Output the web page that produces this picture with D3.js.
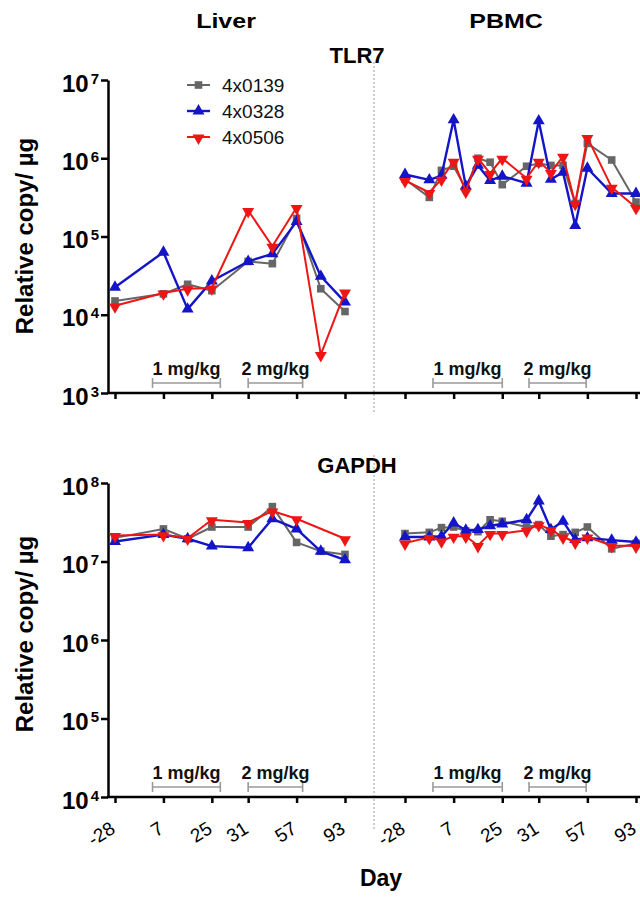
<!DOCTYPE html>
<html>
<head>
<meta charset="utf-8">
<script src="https://cdn.jsdelivr.net/npm/d3@7"></script>
<style>
  body { margin: 0; background: #fff; }
  svg { display: block; font-family: Arial, "Liberation Sans", sans-serif; }
</style>
</head>
<body>
<svg id="chart" width="640" height="898"></svg>
<script>
// sample days are not evenly spaced, so x is a slot index with labelled ticks
const tickSlots = [0, 4, 8, 11, 15, 19];
const tickLabels = ["-28", "7", "25", "31", "57", "93"];
const liverSlots = [0, 4, 6, 8, 11, 13, 15, 17, 19];
const pbmcSlots = [0, 2, 3, 4, 5, 6, 7, 8, 10, 11, 12, 13, 14, 15, 17, 19];

const series = ["4x0139", "4x0328", "4x0506"];

// TLR7, liver (one row per animal, same order as series)
const liverTlr7 = [
  [15000, 18500, 24500, 20300, 48000, 45000, 170000, 21500, 11000],
  [22500, 63000, 11800, 27000, 48000, 60000, 155000, 31000, 14500],
  [13000, 19000, 21500, 22000, 215000, 75000, 235000, 3100, 19500],
];
// TLR7, PBMC
const pbmcTlr7 = [
  [540000, 316000, 700000, 790000, 410000, 1000000, 890000, 460000, 790000, 860000, 810000, 810000, 265000, 1550000, 950000, 275000],
  [620000, 530000, 600000, 3100000, 440000, 810000, 520000, 590000, 480000, 3000000, 540000, 660000, 138000, 745000, 355000, 355000],
  [520000, 365000, 540000, 915000, 380000, 1000000, 640000, 1000000, 555000, 915000, 660000, 1060000, 265000, 1850000, 425000, 235000],
];
// GAPDH, liver (4x0506 has no sample at the 8th point)
const liverGapdh = [
  [20000000, 26000000, 19500000, 27500000, 27500000, 50000000, 17500000, 13500000, 12300000],
  [18000000, 22000000, 19500000, 15700000, 15000000, 35000000, 26000000, 13500000, 10500000],
  [21500000, 22000000, 19800000, 34000000, 31500000, 44000000, 35000000, null, 19500000],
];
// GAPDH, PBMC
const pbmcGapdh = [
  [22700000, 23500000, 27000000, 27500000, 24500000, 24000000, 34000000, 32500000, 27500000, 29500000, 21000000, 22000000, 23500000, 27500000, 14500000, 17000000],
  [20500000, 20500000, 21000000, 31000000, 25000000, 25500000, 28500000, 30000000, 34000000, 59000000, 25500000, 32500000, 19000000, 20000000, 18700000, 17700000],
  [17200000, 20300000, 18300000, 21000000, 21000000, 16000000, 22800000, 22700000, 25000000, 29500000, 25500000, 20500000, 17700000, 20500000, 16000000, 15700000],
];

// dose periods, in slot units per tissue
const doseLabels = ["1 mg/kg", "2 mg/kg"];
const doseLiver = [[3.1, 8.7], [11, 15.5]];
const dosePbmc = [[2.3, 8.0], [10.2, 14.9]];

const colors = ["#666666", "#1414c8", "#ee1515"];
const lineWidths = [2, 2.4, 2];

const svg = d3.select("#chart");

const xLiver = d3.scaleLinear().domain([0, 19]).range([115, 345]);
const xPbmc = d3.scaleLinear().domain([0, 19]).range([405, 636]);
const yTlr7 = d3.scaleLog().domain([1e3, 1e7]).range([393, 80]);
const yGapdh = d3.scaleLog().domain([1e4, 1e8]).range([797, 483]);

const rows = [
  { title: "TLR7", titleY: 63, y: yTlr7, liver: liverTlr7, pbmc: pbmcTlr7, sep: [62, 412], doseY: 383, labels: false, yTitle: 236 },
  { title: "GAPDH", titleY: 473, y: yGapdh, liver: liverGapdh, pbmc: pbmcGapdh, sep: [455, 830], doseY: 787, labels: true, yTitle: 634 },
];

function symbolFor(i) {
  if (i === 0) return d3.symbol().type(d3.symbolSquare).size(58)();
  return d3.symbol().type(d3.symbolTriangle).size(62)();
}

function drawSeries(g, xScale, yScale, slots, values) {
  values.forEach((vals, i) => {
    const pts = slots
      .map((s, j) => ({ s: s, v: vals[j] }))
      .filter((d) => d.v != null);
    const line = d3.line().x((d) => xScale(d.s)).y((d) => yScale(d.v));
    g.append("path")
      .attr("d", line(pts))
      .attr("fill", "none")
      .attr("stroke", colors[i])
      .attr("stroke-width", lineWidths[i])
      .attr("stroke-linejoin", "round");
    g.selectAll(null)
      .data(pts)
      .enter()
      .append("path")
      .attr("d", symbolFor(i))
      .attr("fill", colors[i])
      .attr("transform", (d) =>
        `translate(${xScale(d.s)},${yScale(d.v) + (i === 2 ? 1 : 0)})` + (i === 2 ? " rotate(180)" : "")
      );
  });
}

function drawDose(g, xScale, ranges, y) {
  ranges.forEach((r, i) => {
    const x0 = xScale(r[0]), x1 = xScale(r[1]);
    g.append("line").attr("x1", x0).attr("x2", x1).attr("y1", y).attr("y2", y)
      .attr("stroke", "#9a9a9a").attr("stroke-width", 1.6);
    [x0, x1].forEach((x) => {
      g.append("line").attr("x1", x).attr("x2", x).attr("y1", y - 5).attr("y2", y + 5)
        .attr("stroke", "#9a9a9a").attr("stroke-width", 1.6);
    });
    g.append("text")
      .attr("x", (x0 + x1) / 2)
      .attr("y", y - 8)
      .attr("text-anchor", "middle")
      .attr("font-size", 18)
      .attr("font-weight", "bold")
      .attr("fill", "#111")
      .text(doseLabels[i]);
  });
}

rows.forEach((row) => {
  const g = svg.append("g");
  const yBase = row.y.range()[0];

  // dashed separator between tissues
  g.append("line")
    .attr("x1", 374).attr("x2", 374)
    .attr("y1", row.sep[0]).attr("y2", row.sep[1])
    .attr("stroke", "#9a9a9a").attr("stroke-width", 1)
    .attr("stroke-dasharray", "2,2");

  // y axis, one tick per decade
  const decades = d3.range(5).map((k) => row.y.domain()[0] * Math.pow(10, k));
  const yAxis = d3.axisLeft(row.y)
    .tickValues(decades)
    .tickFormat("")
    .tickSize(7)
    .tickSizeOuter(0);
  const ya = g.append("g").attr("transform", "translate(108,0)").call(yAxis);
  ya.select(".domain").attr("stroke-width", 2.5);
  ya.selectAll(".tick line").attr("stroke-width", 2.5);

  ya.selectAll(".tick").each(function (d) {
    const t = d3.select(this).append("text")
      .attr("x", -9).attr("y", 11)
      .attr("text-anchor", "end")
      .attr("fill", "#000")
      .attr("font-weight", "bold");
    t.append("tspan").attr("font-size", 24).text("10");
    t.append("tspan").attr("font-size", 15).attr("dx", 2).attr("dy", -8)
      .text(Math.round(Math.log10(d)));
  });

  // x axis across both tissues
  g.append("line")
    .attr("x1", 107).attr("x2", 640)
    .attr("y1", yBase).attr("y2", yBase)
    .attr("stroke", "#000").attr("stroke-width", 2.5);

  [xLiver, xPbmc].forEach((xs) => {
    const xa = g.append("g")
      .attr("transform", `translate(0,${yBase})`)
      .call(d3.axisBottom(xs).tickValues(tickSlots).tickFormat("").tickSize(6).tickSizeOuter(0));
    xa.select(".domain").remove();
    xa.selectAll(".tick line").attr("stroke-width", 2.5);
    if (row.labels) {
      xa.selectAll(".tick")
        .append("text")
        .attr("transform", "translate(1,35) rotate(-32)")
        .attr("text-anchor", "end")
        .attr("fill", "#000")
        .attr("font-size", 19)
        .text((d, i) => tickLabels[i]);
    }
  });

  drawDose(g, xLiver, doseLiver, row.doseY);
  drawDose(g, xPbmc, dosePbmc, row.doseY);

  drawSeries(g, xLiver, row.y, liverSlots, row.liver);
  drawSeries(g, xPbmc, row.y, pbmcSlots, row.pbmc);

  // row title
  g.append("text")
    .attr("x", 357).attr("y", row.titleY)
    .attr("text-anchor", "middle")
    .attr("font-size", 22).attr("font-weight", "bold")
    .text(row.title);

  // y title
  g.append("text")
    .attr("transform", `translate(33,${row.yTitle}) rotate(-90)`)
    .attr("text-anchor", "middle")
    .attr("font-size", 24).attr("font-weight", "bold")
    .text("Relative copy/ \u00b5g");
});

// tissue headers
[["Liver", 226], ["PBMC", 506]].forEach((h) => {
  svg.append("text")
    .attr("transform", `translate(${h[1]},28) scale(1.25,1)`)
    .attr("text-anchor", "middle")
    .attr("font-size", 20).attr("font-weight", "bold")
    .text(h[0]);
});

// legend
const legend = svg.append("g").attr("transform", "translate(187,85)");
series.forEach((name, i) => {
  const lg = legend.append("g").attr("transform", `translate(0,${i * 26})`);
  lg.append("line").attr("x1", 0).attr("x2", 23).attr("y1", 0).attr("y2", 0)
    .attr("stroke", colors[i]).attr("stroke-width", lineWidths[i]);
  lg.append("path")
    .attr("d", symbolFor(i))
    .attr("fill", colors[i])
    .attr("transform", `translate(11.5,${i === 2 ? 1 : 0})` + (i === 2 ? " rotate(180)" : ""));
  lg.append("text")
    .attr("x", 35).attr("y", 7)
    .attr("font-size", 19)
    .attr("fill", "#111")
    .text(name);
});

// x title
svg.append("text")
  .attr("x", 381).attr("y", 886)
  .attr("text-anchor", "middle")
  .attr("font-size", 23).attr("font-weight", "bold")
  .text("Day");
</script>
</body>
</html>
